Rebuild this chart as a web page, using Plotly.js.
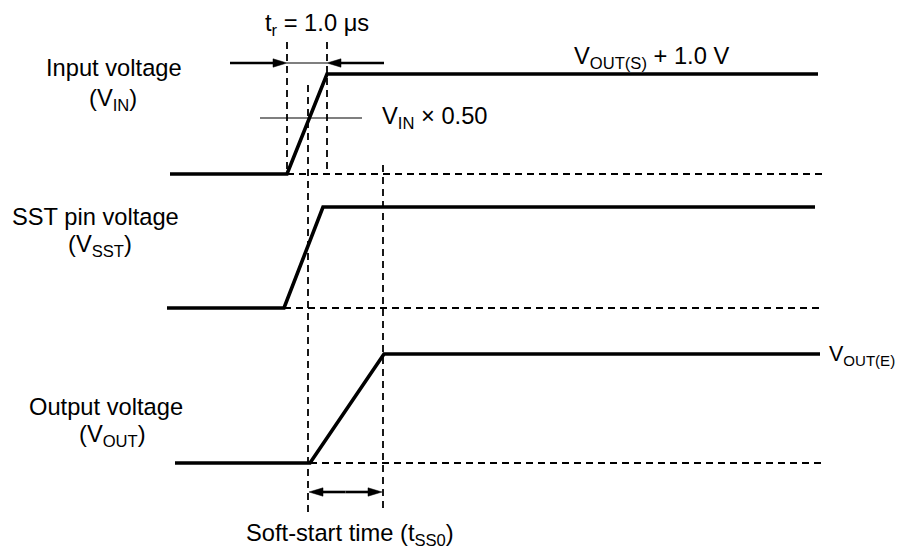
<!DOCTYPE html>
<html>
<head>
<meta charset="utf-8">
<script src="https://cdn.plot.ly/plotly-3.0.1.min.js"></script>
<style>html,body{margin:0;padding:0;background:#fff;}#chart{width:901px;height:553px;}</style>
</head>
<body>
<div id="chart"></div>
<script>
// ---- waveform data (time, level) ----
const vinTime  = [170, 287, 327, 818];
const vinLevel = [174, 174, 74, 74];
const sstTime  = [167, 284, 323, 815];
const sstLevel = [308, 308, 207, 207];
const outTime  = [175, 310, 384, 820];
const outLevel = [463, 463, 354, 354];

// ---- reference / timing markers ----
const baseLevels = [174, 308, 463];
const baseStart  = [287, 284, 310];
const baseEnd    = [823, 820, 823];
const markerTimes = [287, 327, 308, 383];
const markerTop   = [42, 42, 85, 165];
const markerBot   = [174, 174, 513, 513];
const halfLevel = 118, halfStart = 260, halfEnd = 362;
const trLevel = 63, trArrowOut = [230, 384];
const ssLevel = 492;

// ---- text labels ----
const labels = [
  {t: 'Input voltage', x: 114, y: 68},
  {t: '(V<sub>IN</sub>)', x: 113, y: 100},
  {t: 'SST pin voltage', x: 95, y: 217},
  {t: '(V<sub>SST</sub>)', x: 100, y: 246},
  {t: 'Output voltage', x: 106, y: 407},
  {t: '(V<sub>OUT</sub>)', x: 112, y: 436},
  {t: 't<sub>r</sub> = 1.0 μs', x: 317, y: 25},
  {t: 'V<sub>OUT(S)</sub> + 1.0 V', x: 651, y: 58},
  {t: 'V<sub>IN</sub> × 0.50', x: 435, y: 118},
  {t: 'Soft-start time (t<sub>SS0</sub>)', x: 350, y: 535}
];
const rightLabel = {t: 'V<sub>OUT(E)</sub>', x: 827, y: 355};

const FONT = {family: 'Arial, "Liberation Sans", sans-serif', size: 23.7, color: '#000'};
const thick = {color: '#000', width: 3.6};

const traces = [
  {x: vinTime, y: vinLevel, mode: 'lines', line: thick, hoverinfo: 'skip'},
  {x: sstTime, y: sstLevel, mode: 'lines', line: thick, hoverinfo: 'skip'},
  {x: outTime, y: outLevel, mode: 'lines', line: thick, hoverinfo: 'skip'}
];

const dashLine = {color: '#000', width: 1.8, dash: '7px,5px'};
const shapes = [];
baseLevels.forEach((lv, i) => shapes.push({type: 'line', xref: 'x', yref: 'y', x0: baseStart[i], x1: baseEnd[i], y0: lv, y1: lv, line: dashLine, layer: 'below'}));
markerTimes.forEach((t, i) => shapes.push({type: 'line', xref: 'x', yref: 'y', x0: t, x1: t, y0: markerTop[i], y1: markerBot[i], line: dashLine, layer: 'below'}));
// thin lines
shapes.push({type: 'line', x0: halfStart, x1: halfEnd, y0: halfLevel, y1: halfLevel, line: {color: '#000', width: 1.2}});
shapes.push({type: 'line', x0: markerTimes[0], x1: markerTimes[1], y0: trLevel, y1: trLevel, line: {color: '#000', width: 1.2}});

function arrow(tail, head, y) {
  const dir = head > tail ? 1 : -1;
  const L = 14, W = 4.2;
  const base = head - dir * L;
  shapes.push({type: 'line', x0: tail, x1: base, y0: y, y1: y, line: {color: '#000', width: 2.6}});
  shapes.push({type: 'path', path: `M${head},${y} L${base},${y - W} L${base},${y + W} Z`, fillcolor: '#000', line: {color: '#000', width: 0.5}});
}
arrow(trArrowOut[0], markerTimes[0], trLevel);
arrow(trArrowOut[1], markerTimes[1], trLevel);
// double arrow for soft-start time
const ssMid = (markerTimes[2] + markerTimes[3]) / 2;
arrow(ssMid, markerTimes[2] + 1, ssLevel);
arrow(ssMid, markerTimes[3] - 1, ssLevel);

const annotations = labels.map(l => ({x: l.x, y: l.y, text: l.t, showarrow: false, xanchor: 'center', yanchor: 'middle', font: FONT}));
annotations.push({x: rightLabel.x, y: rightLabel.y, text: rightLabel.t, showarrow: false, xanchor: 'left', yanchor: 'middle',
  font: Object.assign({}, FONT, {size: 21.5})});

const layout = {
  width: 901, height: 553,
  margin: {l: 0, r: 0, t: 0, b: 0},
  paper_bgcolor: '#fff', plot_bgcolor: '#fff',
  showlegend: false,
  xaxis: {range: [0, 901], visible: false, fixedrange: true},
  yaxis: {range: [553, 0], visible: false, fixedrange: true},
  shapes: shapes,
  annotations: annotations,
  font: FONT
};
Plotly.newPlot('chart', traces, layout, {displayModeBar: false});
</script>
</body>
</html>
